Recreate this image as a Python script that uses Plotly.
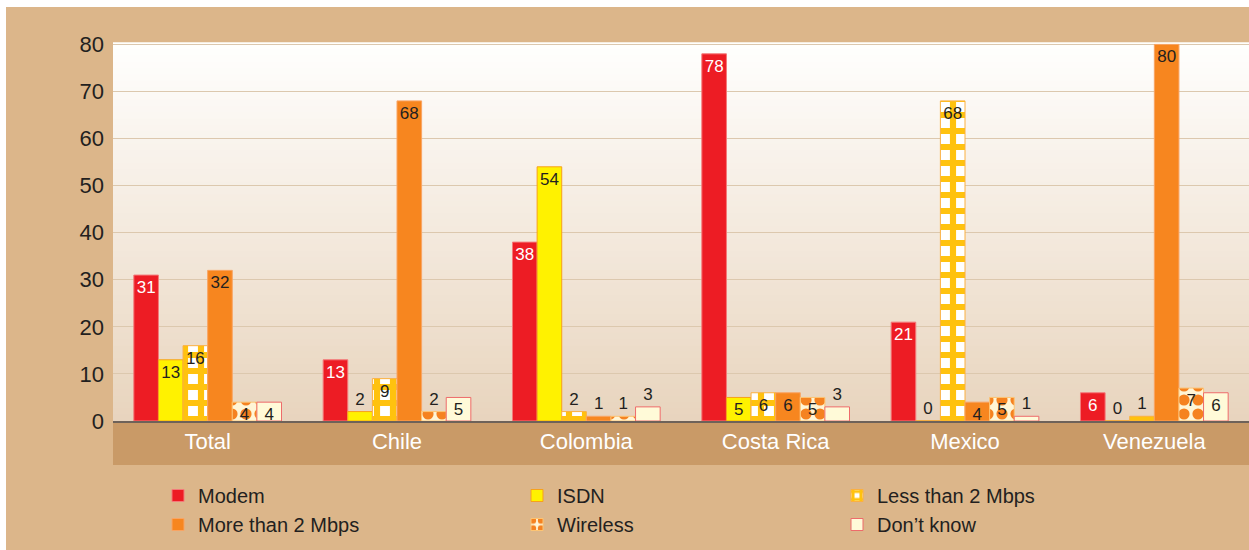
import plotly.graph_objects as go

# ---- data -------------------------------------------------------------
countries = ["Total", "Chile", "Colombia", "Costa Rica", "Mexico", "Venezuela"]
modem = [31, 13, 38, 78, 21, 6]
isdn = [13, 2, 54, 5, 0, 0]
less_2mbps = [16, 9, 2, 6, 68, 1]
more_2mbps = [32, 68, 1, 6, 4, 80]
wireless = [4, 2, 1, 5, 5, 7]
dont_know = [4, 5, 3, 3, 1, 6]
y_ticks = [0, 10, 20, 30, 40, 50, 60, 70, 80]

# ---- geometry helpers (pixels -> paper fractions) ---------------------
W, H = 1249, 550
ML, MR, MT, MB = 113, 0, 43, 129
PW, PH = W - ML - MR, H - MT - MB


def fx(px):
    return (px - ML) / PW


def fy(py):
    return (H - MB - py) / PH


FONT = "Liberation Sans, Arial, Helvetica, sans-serif"
DARK = "#231F20"
TAN = "#DCB68A"
BAND = "#C99A67"

fig = go.Figure()


def add_series(name, values, color, line_color, legend, text_color=DARK, pattern=None):
    # small bars get their value printed above, taller ones inside at the top
    positions = ["inside" if v >= 4 else "outside" for v in values]
    marker = dict(color=color, line=dict(color=line_color, width=1))
    if pattern:
        marker["pattern"] = pattern
    fig.add_trace(go.Bar(
        name=name,
        x=countries,
        y=values,
        text=[str(v) for v in values],
        textposition=positions,
        insidetextanchor="end",
        textangle=0,
        constraintext="none",
        cliponaxis=False,
        insidetextfont=dict(family=FONT, size=17, color=text_color),
        outsidetextfont=dict(family=FONT, size=17, color=DARK),
        marker=marker,
        legend=legend,
    ))


add_series("Modem", modem, "#ED1C24", "#F47A7A", "legend", text_color="#FFFFFF")
add_series("ISDN", isdn, "#FFF200", "#F7A11A", "legend2")
add_series("Less than 2 Mbps", less_2mbps, "#FFFFFF", "#FBB040", "legend3",
           pattern=dict(shape="+", fgcolor="#FFC20E", bgcolor="#FFFFFF",
                        fillmode="replace", size=16, solidity=0.62))
add_series("More than 2 Mbps", more_2mbps, "#F7861F", "#F9A463", "legend")
add_series("Wireless", wireless, "#FFF5D6", "#FDC473", "legend2",
           pattern=dict(shape=".", fgcolor="#F58220", bgcolor="#FFF5D6",
                        fillmode="replace", size=14, solidity=0.5))
add_series("Don\u2019t know", dont_know, "#FFFAD8", "#EE6B6B", "legend3")

# ---- background decoration -------------------------------------------
shapes = []
# white frame strip on the top and left
shapes.append(dict(type="rect", xref="paper", yref="paper", layer="below",
                   x0=fx(0), x1=fx(W), y0=fy(0), y1=fy(7),
                   fillcolor="#FFFFFF", line=dict(width=0)))
shapes.append(dict(type="rect", xref="paper", yref="paper", layer="below",
                   x0=fx(0), x1=fx(6), y0=fy(H), y1=fy(0),
                   fillcolor="#FFFFFF", line=dict(width=0)))
# vertical gradient inside the plotting area
top_rgb = (255, 255, 254)
bot_rgb = (232, 212, 189)
steps = 60
for i in range(steps):
    t = (i + 0.5) / steps
    r, g, b = (round(bot_rgb[k] + (top_rgb[k] - bot_rgb[k]) * t) for k in range(3))
    shapes.append(dict(type="rect", xref="paper", yref="paper", layer="below",
                       x0=0, x1=1, y0=i / steps, y1=(i + 1) / steps + 0.002,
                       fillcolor=f"rgb({r},{g},{b})", line=dict(width=0)))
# darker band carrying the category labels
shapes.append(dict(type="rect", xref="paper", yref="paper", layer="below",
                   x0=0, x1=1, y0=fy(465), y1=0,
                   fillcolor=BAND, line=dict(width=0)))

legend_common = dict(
    orientation="v",
    bgcolor="rgba(0,0,0,0)",
    font=dict(family=FONT, size=20, color=DARK),
    xanchor="left",
    yanchor="top",
    itemclick=False,
    itemdoubleclick=False,
    tracegroupgap=0,
)

fig.update_layout(
    width=W,
    height=H,
    margin=dict(l=ML, r=MR, t=MT, b=MB, pad=0),
    paper_bgcolor=TAN,
    plot_bgcolor="rgba(0,0,0,0)",
    barmode="group",
    bargap=0.22,
    bargroupgap=0,
    showlegend=True,
    shapes=shapes,
    legend=dict(legend_common, x=fx(158), y=fy(476)),
    legend2=dict(legend_common, x=fx(517), y=fy(476)),
    legend3=dict(legend_common, x=fx(837), y=fy(476)),
    xaxis=dict(
        range=[-0.5, 5.5],
        showgrid=False,
        showline=True,
        linecolor="#6E6259",
        linewidth=1.5,
        ticks="",
        ticklabelstandoff=0,
        tickfont=dict(family=FONT, size=22, color="#FFFFFF"),
        fixedrange=True,
    ),
    yaxis=dict(
        range=[0, 80.3],
        tickvals=y_ticks,
        showgrid=True,
        gridcolor="#DCC8AE",
        gridwidth=1,
        zeroline=False,
        showline=False,
        ticks="",
        ticklabelstandoff=8,
        tickfont=dict(family=FONT, size=22, color=DARK),
        fixedrange=True,
    ),
)

fig.write_html("out.html")
